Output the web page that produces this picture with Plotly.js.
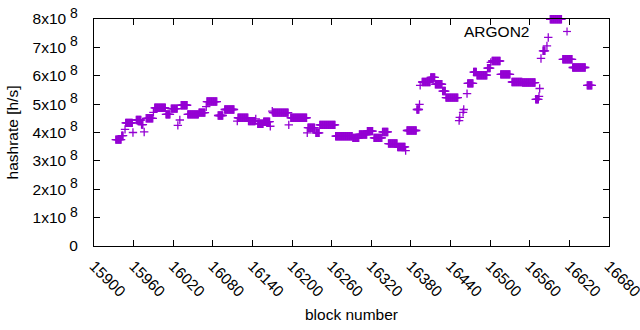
<!DOCTYPE html>
<html>
<head>
<meta charset="utf-8">
<script src="https://cdn.plot.ly/plotly-3.0.1.min.js"></script>
<style>
html,body{margin:0;padding:0;background:#fff;}
#chart{width:640px;height:330px;}
</style>
</head>
<body>
<div id="chart"></div>
<script>
// Runs of consecutive blocks sharing the same hashrate
const runStart = [15933,15942,15947,15948,15959,15964,15972,15976,15979,15990,15992,16009,16017,16027,16030,16032,16042,16059,16070,16071,16088,16098,16117,16118,16134,16145,16148,16157,16167,16170,16171,16195,16198,16223,16224,16236,16242,16266,16292,16302,16314,16324,16337,16346,16360,16372,16374,16389,16393,16394,16397,16410,16417,16428,16433,16453,16454,16459,16460,16465,16466,16475,16480,16496,16501,16503,16516,16533,16549,16569,16574,16575,16577,16580,16586,16588,16591,16610,16625,16647];
const runEnd   = [15941,15944,15947,15958,15959,15971,15974,15976,15989,15990,16008,16015,16026,16027,16030,16041,16058,16068,16070,16086,16095,16112,16117,16133,16144,16145,16156,16166,16167,16170,16194,16195,16222,16223,16234,16241,16265,16291,16301,16313,16322,16336,16345,16359,16371,16372,16388,16392,16393,16394,16409,16416,16427,16432,16451,16453,16454,16459,16460,16465,16474,16479,16495,16500,16501,16515,16530,16548,16568,16573,16574,16575,16577,16583,16586,16588,16608,16624,16644,16654];
const runHashrate = [3.75e8,3.89e8,4.11e8,4.34e8,4.00e8,4.44e8,4.28e8,4.02e8,4.50e8,4.71e8,4.87e8,4.64e8,4.84e8,4.25e8,4.44e8,4.96e8,4.64e8,4.70e8,4.91e8,5.09e8,4.60e8,4.81e8,4.40e8,4.52e8,4.40e8,4.48e8,4.31e8,4.38e8,4.22e8,4.75e8,4.70e8,4.27e8,4.52e8,3.99e8,4.17e8,3.99e8,4.27e8,3.87e8,3.81e8,3.93e8,4.05e8,3.81e8,4.02e8,3.61e8,3.49e8,3.36e8,4.07e8,4.81e8,4.99e8,5.66e8,5.78e8,5.94e8,5.70e8,5.46e8,5.23e8,4.42e8,4.53e8,4.71e8,4.81e8,5.37e8,5.73e8,6.13e8,6.02e8,6.27e8,6.47e8,6.52e8,6.05e8,5.78e8,5.76e8,5.17e8,5.27e8,5.55e8,6.61e8,6.88e8,7.05e8,7.35e8,7.99e8,6.58e8,6.29e8,5.66e8];

const seriesName = "ARGON2";
const xTickVals = [15900,15960,16020,16080,16140,16200,16260,16320,16380,16440,16500,16560,16620,16680];
const yTickVals = [0,1e8,2e8,3e8,4e8,5e8,6e8,7e8,8e8];
const yTickText = ["0","1x10<sup><span style='font-size:14px'> 8</span></sup>","2x10<sup><span style='font-size:14px'> 8</span></sup>","3x10<sup><span style='font-size:14px'> 8</span></sup>","4x10<sup><span style='font-size:14px'> 8</span></sup>","5x10<sup><span style='font-size:14px'> 8</span></sup>","6x10<sup><span style='font-size:14px'> 8</span></sup>","7x10<sup><span style='font-size:14px'> 8</span></sup>","8x10<sup><span style='font-size:14px'> 8</span></sup>"];
const xTitle = "block number";
const yTitle = "hashrate [h/s]";

// one point per block
const blocks = [], hashrate = [];
for (let i = 0; i < runStart.length; i++) {
  for (let b = runStart[i]; b <= runEnd[i]; b++) {
    blocks.push(b);
    hashrate.push(runHashrate[i]);
  }
}

const COLOR = "#9400D3";
const FONT = {family: "Liberation Sans, Arial, sans-serif", size: 15.5, color: "#000"};

const trace = {
  x: blocks, y: hashrate, type: "scatter", mode: "markers", name: seriesName,
  cliponaxis: false, showlegend: false,
  marker: {symbol: "cross-thin-open", size: 6, color: COLOR, line: {color: COLOR, width: 1.3}}
};

const axisCommon = {
  showline: true, linecolor: "#000", linewidth: 1, mirror: "allticks",
  ticks: "inside", ticklen: 6, tickcolor: "#000", tickwidth: 1,
  showgrid: false, zeroline: false, tickfont: FONT
};

const layout = {
  width: 640, height: 330,
  margin: {l: 94, r: 31, t: 19, b: 84},
  paper_bgcolor: "#fff", plot_bgcolor: "#fff",
  font: FONT,
  xaxis: Object.assign({}, axisCommon, {
    range: [15900, 16680], tickmode: "array", tickvals: xTickVals,
    ticktext: xTickVals.map(String), tickangle: 45, ticklabelstandoff: 4,
    ticklabeloverflow: "allow",
    title: {text: xTitle, font: FONT, standoff: 9}
  }),
  yaxis: Object.assign({}, axisCommon, {
    range: [0, 8e8], tickmode: "array", tickvals: yTickVals, ticktext: yTickText,
    ticklabelstandoff: 12,
    title: {text: yTitle, font: FONT, standoff: 10}
  }),
  annotations: [{
    xref: "paper", yref: "paper", x: 0.849, y: 0.945, xanchor: "right", yanchor: "middle",
    text: seriesName, showarrow: false, font: FONT
  }],
  shapes: [
    {type: "line", xref: "paper", yref: "paper", xsizemode: "pixel", ysizemode: "pixel",
     xanchor: 0.9185, yanchor: 0.945, x0: -4, x1: 4, y0: 0, y1: 0, line: {color: COLOR, width: 1.2}},
    {type: "line", xref: "paper", yref: "paper", xsizemode: "pixel", ysizemode: "pixel",
     xanchor: 0.9185, yanchor: 0.945, x0: 0, x1: 0, y0: -4, y1: 4, line: {color: COLOR, width: 1.2}}
  ]
};

Plotly.newPlot("chart", [trace], layout, {staticPlot: true, displayModeBar: false});
</script>
</body>
</html>
